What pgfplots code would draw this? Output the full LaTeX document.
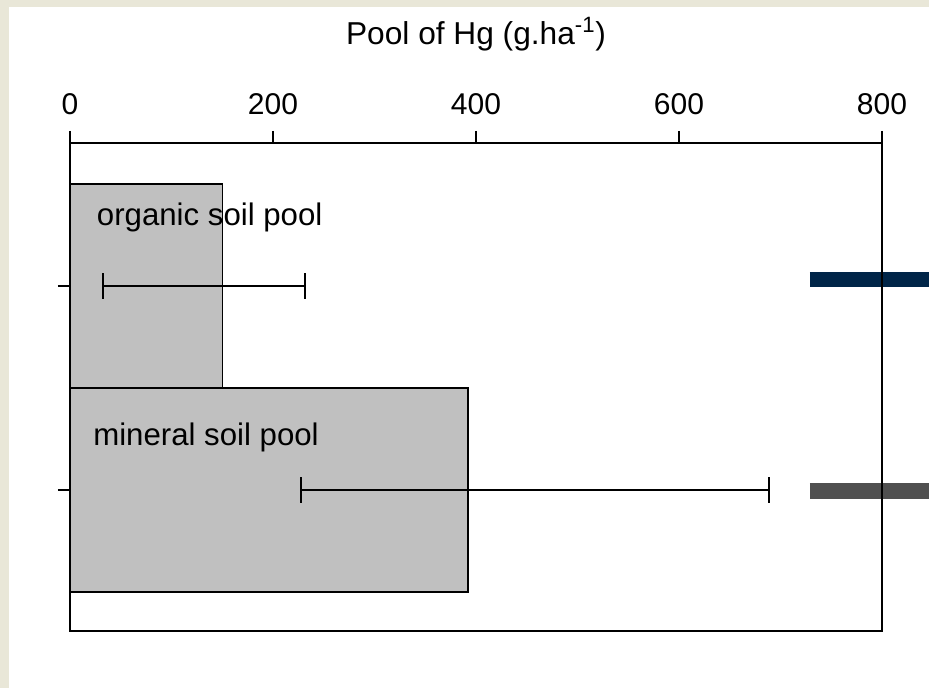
\documentclass[border=0pt]{standalone}
\usepackage{fontspec}
\setmainfont{Liberation Sans}
\usepackage{pgfplots}
\pgfplotsset{compat=1.18}
\definecolor{bgbeige}{HTML}{E9E7D8}
\definecolor{barfill}{HTML}{C0C0C0}
\definecolor{navy}{HTML}{002548}
\definecolor{dgray}{HTML}{505050}
\begin{document}
\begin{tikzpicture}
\useasboundingbox (0,0) rectangle (696.75pt,516pt);
\fill[bgbeige] (0,0) rectangle (696.75pt,516pt);
\fill[white] (6.75pt,0) rectangle (696.75pt,510.75pt);
\begin{axis}[
 at={(52.5pt,42.75pt)}, anchor=south west,
 scale only axis, width=609pt, height=366pt,
 xmin=0, xmax=800, ymin=-0.701, ymax=1.691, y dir=reverse,
 xtick={0,200,400,600,800}, xtick pos=right, xticklabel pos=right,
 ytick={0,1}, yticklabels={}, ytick pos=left,
 tick align=outside, major tick length=9pt,
 axis line style={line width=1.2pt},
 every tick/.style={black, line width=0.9pt},
 font=\fontsize{23.4}{28}\selectfont,
 ticklabel style={font=\fontsize{22.5}{27}\selectfont},
 xticklabel style={anchor=base, yshift=12pt},
 clip=false, axis on top,
 scaled x ticks=false,
 /pgf/number format/assume math mode=true,
]
\addplot[xbar, bar width=1, bar shift=0pt, fill=barfill, draw=black, line width=1.1pt,
 error bars/.cd, x dir=both, x explicit,
 error mark=|,
 error bar style={line width=1.2pt, black},
 error mark options={black, line width=1.2pt, mark size=9.4pt}]
 coordinates {(150,0) += (81.5,0) -= (117.5,0)
 (392,1) += (296.7,0) -= (164.4,0)};
\addplot[navy, line width=11.25pt, forget plot] coordinates {(729,-0.032) (846,-0.032)};
\addplot[dgray, line width=12pt, forget plot] coordinates {(729,1.005) (846,1.005)};
\node[anchor=base west, inner sep=0pt] at (axis cs:26.3,-0.2956) {organic soil pool};
\node[anchor=base west, inner sep=0pt] at (axis cs:22.7,0.783) {mineral soil pool};
\end{axis}
\node[anchor=base] at (357pt,482.25pt) {\fontsize{23.75}{28}\selectfont Pool of Hg (g.ha\textsuperscript{-1})};
\end{tikzpicture}
\end{document}
